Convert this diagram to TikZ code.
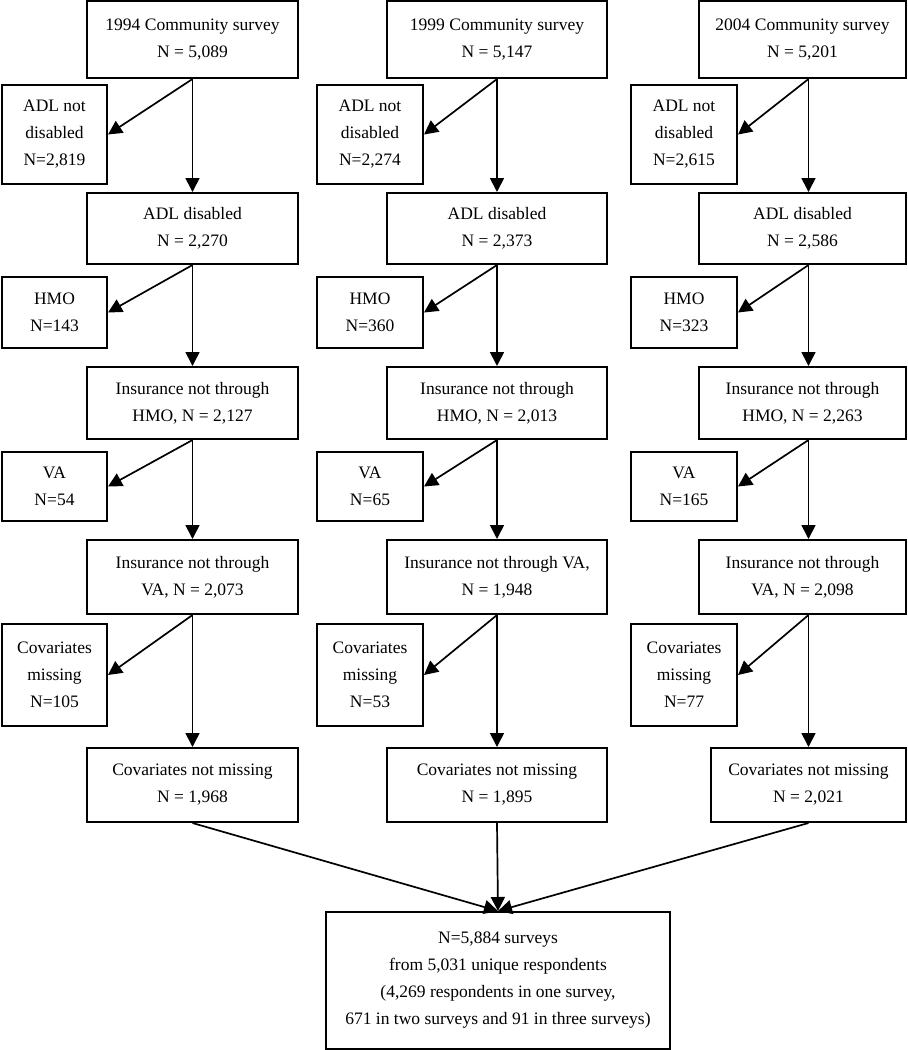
\documentclass[tikz,border=0pt]{standalone}
\usepackage{fontspec}
\setmainfont{Liberation Serif}
\usetikzlibrary{arrows.meta}
\begin{document}
\begin{tikzpicture}[x=1pt, y=-1pt,
        box/.style={draw, line width=2pt, align=center, inner sep=0pt, font=\fontsize{17.5}{27}\selectfont},
        mainbox/.style={box, minimum width=211pt},
        sidebox/.style={box, minimum width=105pt},
        arr/.style={line width=1.7pt, -{Triangle[length=14pt, width=14pt]}}]
        \useasboundingbox (0,0) rectangle (908,1050);
        % 1994 survey
        \node[mainbox, minimum height=77pt] (top1) at (192.5,39.5) {1994 Community survey\\N = 5,089};
        \node[sidebox, minimum height=99pt] (adln1) at (54.5,134.5) {ADL not\\disabled\\N=2,819};
        \node[mainbox, minimum height=71pt] (adl1) at (192.5,228.5) {ADL disabled\\N = 2,270};
        \node[sidebox, minimum height=71pt] (hmo1) at (54.5,312.5) {HMO\\N=143};
        \node[mainbox, minimum height=72pt] (ins1) at (192.5,403) {Insurance not through\\HMO, N = 2,127};
        \node[sidebox, minimum height=69pt] (va1) at (54.5,486.5) {VA\\N=54};
        \node[mainbox, minimum height=74pt] (insva1) at (192.5,577) {Insurance not through\\VA, N = 2,073};
        \node[sidebox, minimum height=102pt] (covm1) at (54.5,675) {Covariates\\missing\\N=105};
        \node[mainbox, minimum height=74pt] (cov1) at (192.5,785) {Covariates not missing\\N = 1,968};
        % 1999 survey
        \node[mainbox, minimum width=220pt, minimum height=77pt] (top2) at (497,39.5) {1999 Community survey\\N = 5,147};
        \node[sidebox, minimum width=106pt, minimum height=99pt] (adln2) at (370,134.5) {ADL not\\disabled\\N=2,274};
        \node[mainbox, minimum width=220pt, minimum height=71pt] (adl2) at (497,228.5) {ADL disabled\\N = 2,373};
        \node[sidebox, minimum width=106pt, minimum height=71pt] (hmo2) at (370,312.5) {HMO\\N=360};
        \node[mainbox, minimum width=220pt, minimum height=72pt] (ins2) at (497,403) {Insurance not through\\HMO, N = 2,013};
        \node[sidebox, minimum width=106pt, minimum height=69pt] (va2) at (370,486.5) {VA\\N=65};
        \node[mainbox, minimum width=220pt, minimum height=74pt] (insva2) at (497,577) {Insurance not through VA,\\N = 1,948};
        \node[sidebox, minimum width=106pt, minimum height=102pt] (covm2) at (370,675) {Covariates\\missing\\N=53};
        \node[mainbox, minimum width=220pt, minimum height=74pt] (cov2) at (497,785) {Covariates not missing\\N = 1,895};
        % 2004 survey
        \node[mainbox, minimum width=207pt, minimum height=77pt] (top3) at (802.5,39.5) {2004 Community survey\\N = 5,201};
        \node[sidebox, minimum width=106pt, minimum height=99pt] (adln3) at (684,134.5) {ADL not\\disabled\\N=2,615};
        \node[mainbox, minimum width=207pt, minimum height=71pt] (adl3) at (802.5,228.5) {ADL disabled\\N = 2,586};
        \node[sidebox, minimum width=106pt, minimum height=71pt] (hmo3) at (684,312.5) {HMO\\N=323};
        \node[mainbox, minimum width=207pt, minimum height=72pt] (ins3) at (802.5,403) {Insurance not through\\HMO, N = 2,263};
        \node[sidebox, minimum width=106pt, minimum height=69pt] (va3) at (684,486.5) {VA\\N=165};
        \node[mainbox, minimum width=207pt, minimum height=74pt] (insva3) at (802.5,577) {Insurance not through\\VA, N = 2,098};
        \node[sidebox, minimum width=106pt, minimum height=102pt] (covm3) at (684,675) {Covariates\\missing\\N=77};
        \node[mainbox, minimum width=195pt, minimum height=74pt] (cov3) at (808.5,785) {Covariates not missing\\N = 2,021};
        % pooled sample
        \node[box, minimum width=344pt, minimum height=137pt] (pool) at (498,980.5) {N=5,884 surveys\\from 5,031 unique respondents\\(4,269 respondents in one survey,\\671 in two surveys and 91 in three surveys)};
        % arrows, columns 1 and 2
        \foreach \c in {1,2} {
            \draw[arr] (top\c.south) -- (adln\c.east);
            \draw[arr] (top\c.south) -- (adl\c.north);
            \draw[arr] (adl\c.south) -- (hmo\c.east);
            \draw[arr] (adl\c.south) -- (ins\c.north);
            \draw[arr] (ins\c.south) -- (va\c.east);
            \draw[arr] (ins\c.south) -- (insva\c.north);
            \draw[arr] (insva\c.south) -- (covm\c.east);
            \draw[arr] (insva\c.south) -- (cov\c.north);
        }
        % arrows, column 3 (line sits right of centre)
        \draw[arr] (top3.south -| cov3) -- (adln3.east);
        \draw[arr] (top3.south -| cov3) -- (adl3.north -| cov3);
        \draw[arr] (adl3.south -| cov3) -- (hmo3.east);
        \draw[arr] (adl3.south -| cov3) -- (ins3.north -| cov3);
        \draw[arr] (ins3.south -| cov3) -- (va3.east);
        \draw[arr] (ins3.south -| cov3) -- (insva3.north -| cov3);
        \draw[arr] (insva3.south -| cov3) -- (covm3.east);
        \draw[arr] (insva3.south -| cov3) -- (cov3.north);
        % into the pooled box
        \draw[arr] (cov1.south) -- (pool.north);
        \draw[arr] (cov2.south) -- (pool.north);
        \draw[arr] (cov3.south) -- (pool.north);
    \end{tikzpicture}
\end{document}
